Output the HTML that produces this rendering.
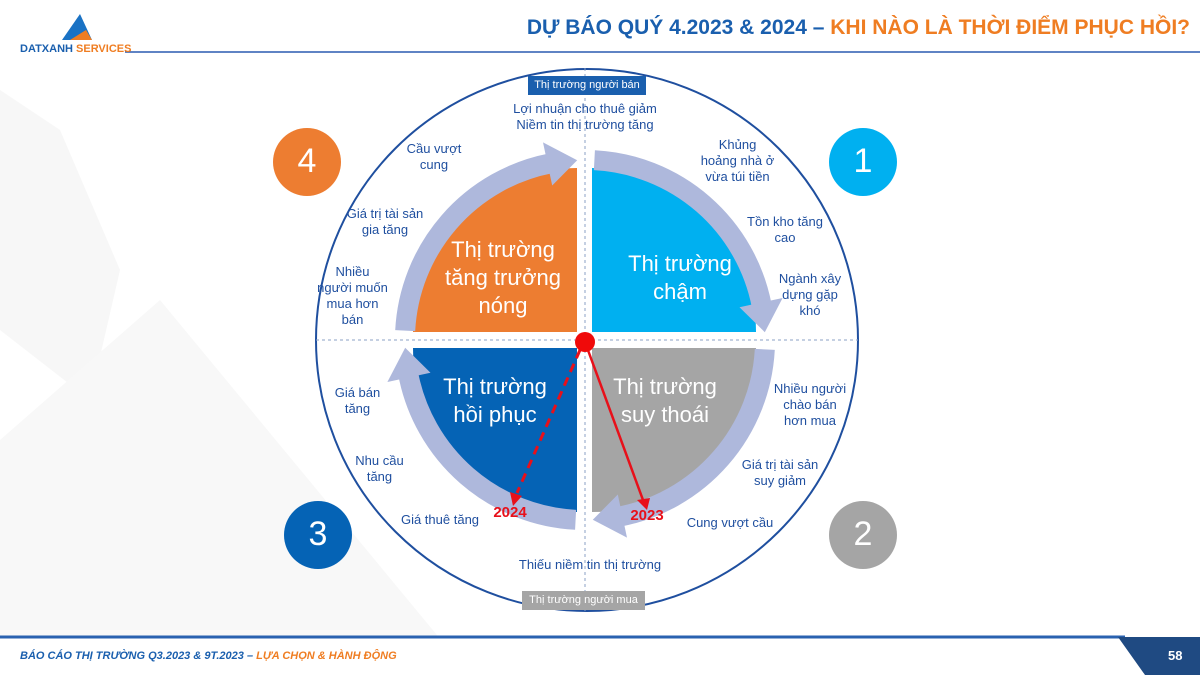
<!DOCTYPE html>
<html><head><meta charset="utf-8"><style>
body{margin:0;width:1200px;height:675px;overflow:hidden;background:#fff;font-family:"Liberation Sans",sans-serif;position:relative}
.t{position:absolute;color:#1f4f9f;font-size:13px;text-align:center;line-height:16px;white-space:nowrap}
</style></head><body>
<svg width="1200" height="675" style="position:absolute;left:0;top:0">
<polygon points="0,90 60,130 120,270 90,400 0,330" fill="#f7f7f7"/>
<polygon points="0,440 160,300 470,675 0,675" fill="#f8f8f8"/>
<line x1="125" y1="52" x2="1200" y2="52" stroke="#2a5ab0" stroke-width="1.5"/>
<polygon points="62,40 80,14 92,40" fill="#1a72c4"/>
<polygon points="70,40 86,30 92,40" fill="#ef7d22"/>
<polygon points="0,636 1120,636 1150,675 0,675" fill="#fff"/>
<line x1="0" y1="637" x2="1125" y2="637" stroke="#2a62b0" stroke-width="3"/>
<polygon points="1118,637 1200,637 1200,675 1145,675" fill="#1f4a82"/>
<circle cx="587" cy="340" r="271" fill="none" stroke="#1f4f9f" stroke-width="2"/>
<line x1="316" y1="340" x2="858" y2="340" stroke="#8ba0c4" stroke-width="1" stroke-dasharray="3,3"/>
<line x1="585" y1="68" x2="585" y2="612" stroke="#8ba0c4" stroke-width="1" stroke-dasharray="3,3"/>
<path d="M577,332 L413,332 A164,164 0 0 1 577,168 Z" fill="#ed7d31"/>
<path d="M592,332 L592,168 A164,164 0 0 1 756,332 Z" fill="#00b0f0"/>
<path d="M592,348 L756,348 A164,164 0 0 1 592,512 Z" fill="#a5a5a5"/>
<path d="M577,348 L577,512 A164,164 0 0 1 413,348 Z" fill="#0563b5"/>
<defs><g id="q"><path d="M405.2,330.6 A180,180 0 0 1 550.7,163.3" fill="none" stroke="#aeb8dc" stroke-width="20"/><polygon points="543,142.4 552.2,185.5 577.2,160.2" fill="#aeb8dc"/></g></defs>
<use href="#q"/>
<use href="#q" transform="rotate(90 585 340)"/>
<use href="#q" transform="rotate(180 585 340)"/>
<use href="#q" transform="rotate(270 585 340)"/>
<line x1="585" y1="342" x2="643" y2="500" stroke="#e8101a" stroke-width="2.5"/>
<polygon points="637,500 650,498 647,510" fill="#e8101a"/>
<line x1="580" y1="350" x2="517" y2="493" stroke="#e8101a" stroke-width="3" stroke-dasharray="9,6"/>
<polygon points="510,492 522,496 513,506" fill="#e8101a"/>
<circle cx="585" cy="342" r="10" fill="#f00a0a"/>
<circle cx="307" cy="162" r="34" fill="#ed7d31"/>
<circle cx="863" cy="162" r="34" fill="#00b0f0"/>
<circle cx="318" cy="535" r="34" fill="#0563b5"/>
<circle cx="863" cy="535" r="34" fill="#a5a5a5"/>
<rect x="528" y="76" width="118" height="19" fill="#1a5fae"/>
<rect x="522" y="591" width="123" height="19" fill="#a5a5a5"/>
</svg>
<div style="position:absolute;left:20px;top:43px;font-size:11px;font-weight:bold;color:#1a5fae">DATXANH <span style="color:#ef7d22">SERVICES</span></div>
<div style="position:absolute;right:10px;top:16px;font-size:21px;font-weight:bold;color:#1a5fae">DỰ BÁO QUÝ 4.2023 &amp; 2024 – <span style="color:#ef7d22">KHI NÀO LÀ THỜI ĐIỂM PHỤC HỒI?</span></div>
<div style="position:absolute;left:20px;top:650px;font-size:11px;font-weight:bold;font-style:italic;color:#1a5fae">BÁO CÁO THỊ TRƯỜNG Q3.2023 &amp; 9T.2023 – <span style="color:#ef7d22">LỰA CHỌN &amp; HÀNH ĐỘNG</span></div>
<div style="position:absolute;left:1168px;top:648px;font-size:13px;font-weight:bold;color:#fff">58</div>
<div class="t" style="left:528px;top:78px;width:118px;color:#fff;font-size:11px;line-height:14px">Thị trường người bán</div>
<div class="t" style="left:522px;top:593px;width:123px;color:#fff;font-size:11px;line-height:14px">Thị trường người mua</div>
<div class="t" style="left:290px;top:141px;width:34px;color:#fff;font-size:34px;line-height:40px">4</div>
<div class="t" style="left:846px;top:141px;width:34px;color:#fff;font-size:34px;line-height:40px">1</div>
<div class="t" style="left:301px;top:514px;width:34px;color:#fff;font-size:34px;line-height:40px">3</div>
<div class="t" style="left:846px;top:514px;width:34px;color:#fff;font-size:34px;line-height:40px">2</div>
<div class="t" style="left:413px;top:236px;width:180px;color:#fff;font-size:22px;line-height:28px">Thị trường<br>tăng trưởng<br>nóng</div>
<div class="t" style="left:590px;top:250px;width:180px;color:#fff;font-size:22px;line-height:28px">Thị trường<br>chậm</div>
<div class="t" style="left:405px;top:373px;width:180px;color:#fff;font-size:22px;line-height:28px">Thị trường<br>hồi phục</div>
<div class="t" style="left:575px;top:373px;width:180px;color:#fff;font-size:22px;line-height:28px">Thị trường<br>suy thoái</div>
<div class="t" style="left:485px;top:505px;width:50px;color:#e8101a;font-weight:bold;font-size:15px">2024</div>
<div class="t" style="left:622px;top:508px;width:50px;color:#e8101a;font-weight:bold;font-size:15px">2023</div>
<div class="t" style="left:485px;top:101px;width:200px">Lợi nhuận cho thuê giảm<br>Niềm tin thị trường tăng</div>
<div class="t" style="left:384px;top:141px;width:100px">Cầu vượt<br>cung</div>
<div class="t" style="left:335px;top:206px;width:100px">Giá trị tài sản<br>gia tăng</div>
<div class="t" style="left:315px;top:264px;width:75px">Nhiều<br>người muốn<br>mua hơn<br>bán</div>
<div class="t" style="left:320px;top:385px;width:75px">Giá bán<br>tăng</div>
<div class="t" style="left:342px;top:453px;width:75px">Nhu cầu<br>tăng</div>
<div class="t" style="left:390px;top:512px;width:100px">Giá thuê tăng</div>
<div class="t" style="left:490px;top:557px;width:200px">Thiếu niềm tin thị trường</div>
<div class="t" style="left:680px;top:137px;width:115px">Khủng<br>hoảng nhà ở<br>vừa túi tiền</div>
<div class="t" style="left:735px;top:214px;width:100px">Tồn kho tăng<br>cao</div>
<div class="t" style="left:760px;top:271px;width:100px">Ngành xây<br>dựng gặp<br>khó</div>
<div class="t" style="left:760px;top:381px;width:100px">Nhiều người<br>chào bán<br>hơn mua</div>
<div class="t" style="left:730px;top:457px;width:100px">Giá trị tài sản<br>suy giảm</div>
<div class="t" style="left:680px;top:515px;width:100px">Cung vượt cầu</div>
</body></html>
